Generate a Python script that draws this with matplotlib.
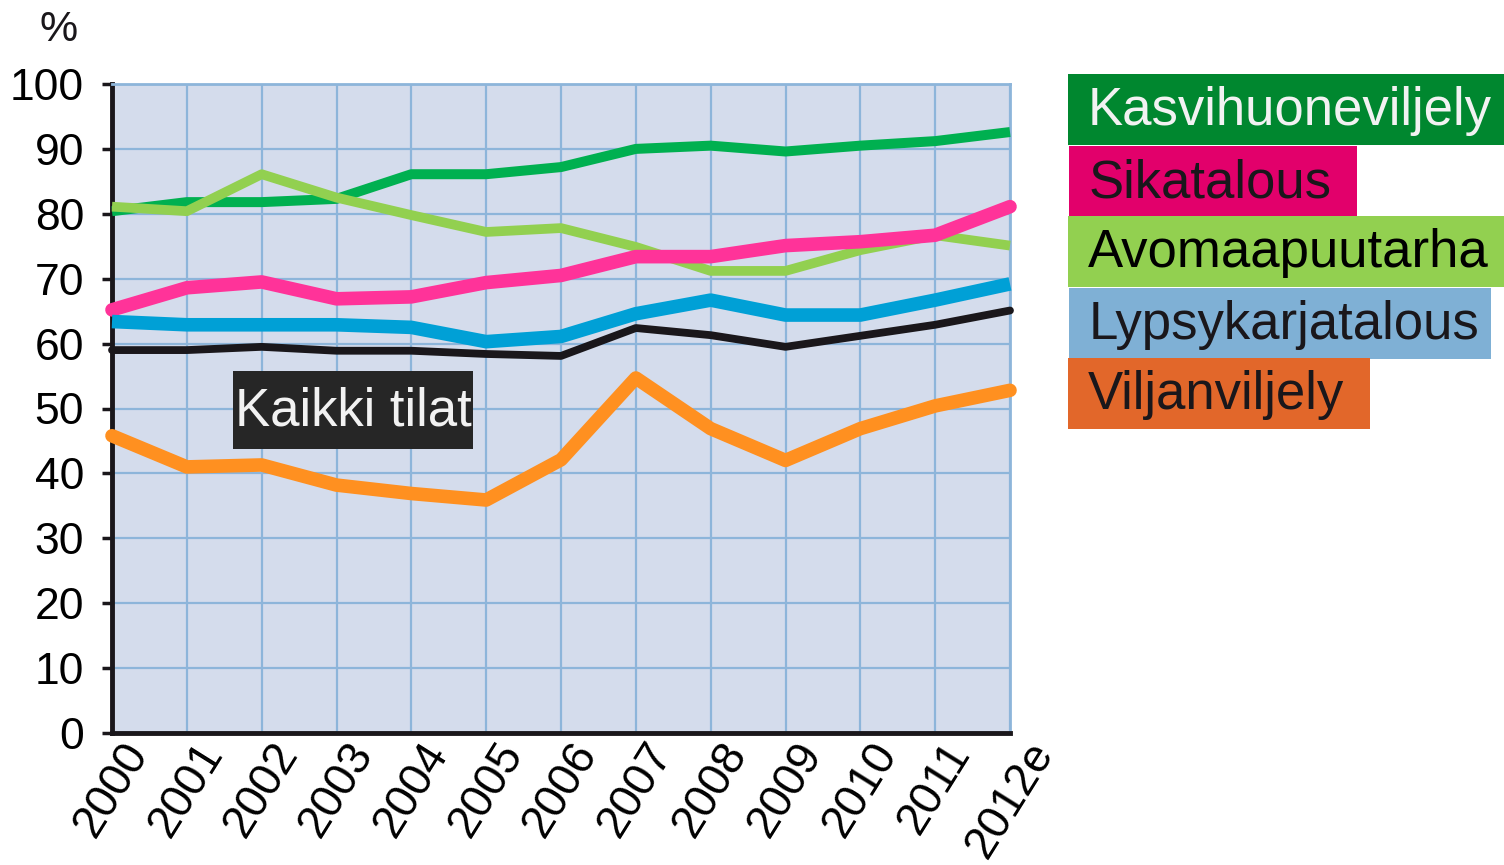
import matplotlib
matplotlib.use("Agg")
import matplotlib.pyplot as plt
from matplotlib.patches import Rectangle

years = ["2000", "2001", "2002", "2003", "2004", "2005", "2006",
         "2007", "2008", "2009", "2010", "2011", "2012e"]

kasvihuone = [80.4, 81.8, 81.8, 82.3, 86.1, 86.1, 87.2, 90.0, 90.5, 89.6, 90.5, 91.2, 92.6]
avomaa = [81.1, 80.4, 86.1, 82.5, 79.8, 77.2, 77.8, 74.9, 71.2, 71.2, 74.4, 76.7, 75.1]
sika = [65.2, 68.6, 69.5, 66.9, 67.2, 69.4, 70.5, 73.4, 73.4, 75.1, 75.7, 76.7, 81.1]
lypsy = [63.4, 62.9, 62.9, 62.9, 62.5, 60.3, 61.1, 64.6, 66.7, 64.4, 64.4, 66.7, 69.2]
kaikki = [59.0, 59.0, 59.5, 58.9, 58.9, 58.4, 58.1, 62.4, 61.3, 59.5, 61.2, 62.9, 65.1]
vilja = [45.8, 41.0, 41.3, 38.2, 36.9, 35.9, 42.1, 54.7, 46.9, 42.0, 46.9, 50.4, 52.8]

legend_labels = ["Kasvihuoneviljely", "Sikatalous", "Avomaapuutarha",
                 "Lypsykarjatalous", "Viljanviljely"]

plt.rcParams['font.family'] = ['Liberation Sans', 'DejaVu Sans']

fig = plt.figure(figsize=(15.04, 8.65), dpi=100)
ax = fig.add_axes([112/1504, 1 - 733/865, 898/1504, 649/865])
ax.set_facecolor("#d4dcec")

x = list(range(len(years)))
ax.plot(x, kasvihuone, color="#00b050", lw=7.2, solid_capstyle="butt", clip_on=False, zorder=3)
ax.plot(x, avomaa, color="#92d050", lw=7, solid_capstyle="butt", clip_on=False, zorder=3)
ax.plot(x, sika, color="#ff3399", lw=9.8, solid_capstyle="round", clip_on=False, zorder=4)
ax.plot(x, lypsy, color="#00a0d6", lw=9.8, solid_capstyle="butt", clip_on=False, zorder=4)
ax.plot(x, kaikki, color="#1a171b", lw=5.6, solid_capstyle="round", clip_on=False, zorder=5)
ax.plot(x, vilja, color="#ff9020", lw=9.8, solid_capstyle="round", clip_on=False, zorder=4)

ax.set_xlim(0, 12)
ax.set_ylim(0, 100)
ax.set_yticks(range(0, 101, 10))
ax.set_xticks(x)
ax.set_xticklabels(years, rotation=58, ha="center", va="top", fontsize=33)
ax.tick_params(axis="y", labelsize=32, length=7, width=2.5, color="#1a171b", pad=13)
ax.tick_params(axis="x", length=0, pad=1)
ax.grid(True, color="#8db5da", lw=1.6)
ax.set_axisbelow(True)
for s in ["top", "right"]:
    ax.spines[s].set_color("#8db5da")
    ax.spines[s].set_linewidth(2)
for s in ["left", "bottom"]:
    ax.spines[s].set_color("#1a171b")
    ax.spines[s].set_linewidth(3.5)

fig.text(59/1504, 1 - 30/865, "%", fontsize=31, ha="center", va="center", color="#1a171b")

# "Kaikki tilat" label box
ax.add_patch(Rectangle((1.617, 43.8), 3.207, 12.0, fc="#262626", ec="none", zorder=6))
ax.text(3.22, 49.6, "Kaikki tilat", fontsize=38, color="#f2f2f2",
        ha="center", va="center", zorder=7)

# legend boxes (pixel layout)
boxes = [(1068, 74, 436, "#00872f", "#f2f2f2"),
         (1069, 146, 288, "#e2006b", "#1a171b"),
         (1068, 216, 436, "#92d050", "#000000"),
         (1069, 288, 422, "#7fb0d5", "#1a171b"),
         (1068, 358, 302, "#e2672a", "#1a171b")]
for (bx, by, bw, fc, tc), lab in zip(boxes, legend_labels):
    fig.patches.append(Rectangle((bx/1504, 1 - (by + 71)/865), bw/1504, 71/865,
                                 transform=fig.transFigure, fc=fc, ec="none"))
    fig.text((bx + 20)/1504, 1 - (by + 37)/865, lab, fontsize=38,
             color=tc, ha="left", va="center")

fig.savefig("out.png", dpi=100)
